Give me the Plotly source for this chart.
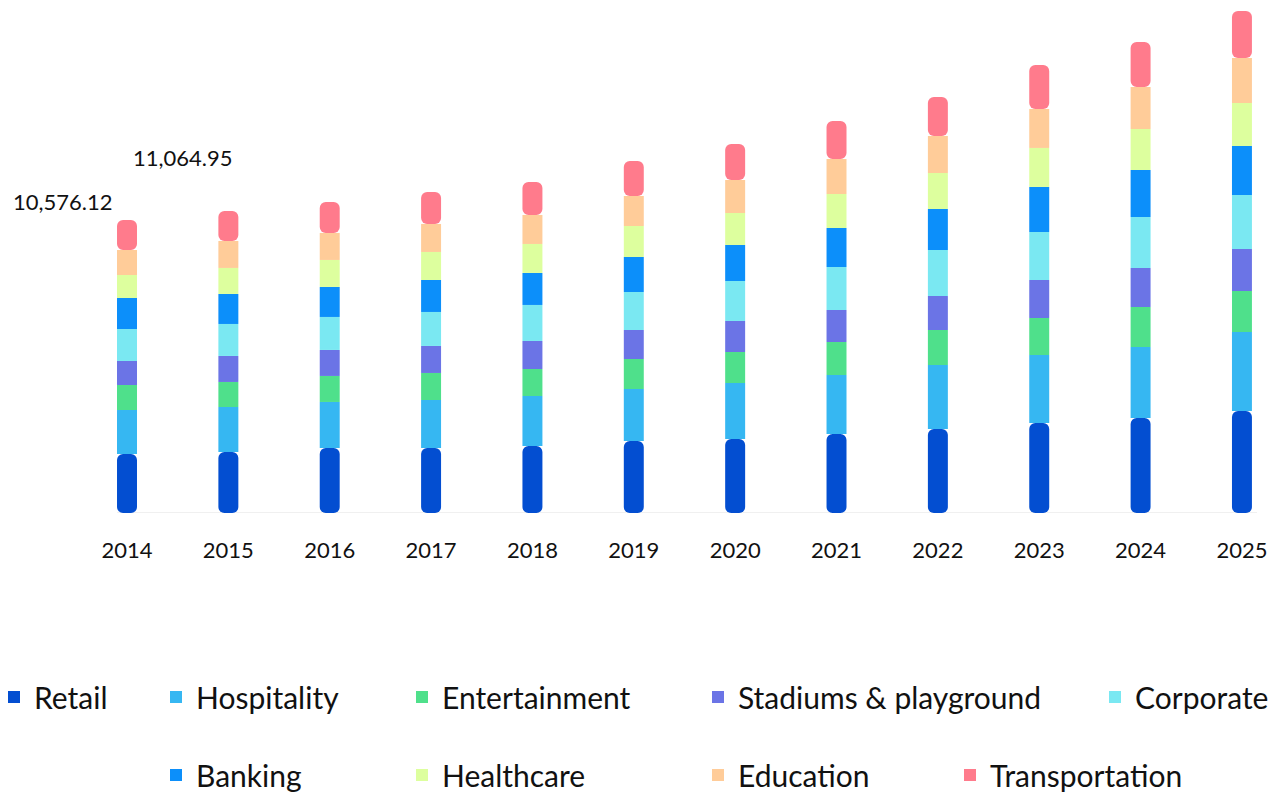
import numpy as np
import plotly.graph_objects as go

years = [2014, 2015, 2016, 2017, 2018, 2019, 2020, 2021, 2022, 2023, 2024, 2025]
categories = ["Retail", "Hospitality", "Entertainment", "Stadiums & playground", "Corporate",
              "Banking", "Healthcare", "Education", "Transportation"]

retail =         [2130, 2202, 2347, 2347, 2419, 2599, 2671, 2852, 3032, 3249, 3430, 3682]
hospitality =    [1588, 1625, 1661, 1733, 1805, 1877, 2022, 2130, 2310, 2455, 2563, 2852]
entertainment =  [903, 903, 939, 975, 975, 1083, 1119, 1191, 1264, 1336, 1444, 1480]
stadiums =       [866, 939, 939, 975, 1011, 1047, 1119, 1155, 1227, 1372, 1408, 1516]
corporate =      [1155, 1155, 1191, 1227, 1300, 1372, 1444, 1552, 1661, 1733, 1841, 1949]
banking =        [1119, 1083, 1083, 1155, 1155, 1264, 1300, 1408, 1480, 1625, 1697, 1769]
healthcare =     [830, 939, 975, 1011, 1047, 1119, 1155, 1227, 1300, 1408, 1480, 1552]
education =      [903, 975, 975, 1011, 1047, 1083, 1191, 1264, 1336, 1408, 1516, 1625]
transportation = [1083, 1083, 1119, 1155, 1191, 1264, 1300, 1372, 1408, 1588, 1625, 1697]

series = [retail, hospitality, entertainment, stadiums, corporate, banking,
          healthcare, education, transportation]
colors = ["#034ed1", "#36b7f2", "#4fe08b", "#6b74e6", "#7ae8f2", "#0c8ffa",
          "#ddff9e", "#ffcc99", "#ff7b8c"]

label_years = [2014, 2015]
label_texts = ["10,576.12", "11,064.95"]

W, H = 1283, 793
PLOT_BOTTOM = 513
FONT = "Lato"
TXT = "#111111"

vals = np.array(series, dtype=float)
bases = np.vstack([np.zeros(len(years)), np.cumsum(vals, axis=0)[:-1]])
totals = vals.sum(axis=0)

bar_w = 0.197
x0, x1 = 2012.747, 2025.405
y_max = 18519

# legend layout: (text start px, row centre px)
leg_text_x = [34, 196, 442, 738, 1135, 196, 442, 738, 990]
leg_row_y = [697, 697, 697, 697, 697, 775, 775, 775, 775]

fig = go.Figure()
n = len(categories)
for i, (name, col) in enumerate(zip(categories, colors)):
    if i == 0:
        # drawn from top of segment down to zero so the rounded end sits at the bottom
        base = vals[i]
        y = -vals[i]
        cr = 6
    else:
        base = bases[i]
        y = vals[i]
        cr = 6 if i == n - 1 else 0
    fig.add_trace(go.Bar(
        x=years, y=y, base=base, name=name, width=bar_w,
        marker=dict(color=col, line=dict(width=0), cornerradius=cr),
        showlegend=False, hoverinfo="skip",
    ))

# legend entries (square icons)
for i, (name, col) in enumerate(zip(categories, colors)):
    lid = "legend" if i == 0 else f"legend{i + 1}"
    fig.add_trace(go.Bar(
        x=[None], y=[None], name=name,
        marker=dict(color=col, line=dict(width=0), cornerradius=0),
        legend=lid, showlegend=True, hoverinfo="skip",
    ))

layout_legends = {}
for i in range(n):
    lid = "legend" if i == 0 else f"legend{i + 1}"
    layout_legends[lid] = dict(
        x=(leg_text_x[i] - 40) / W,
        y=(PLOT_BOTTOM - leg_row_y[i]) / PLOT_BOTTOM,
        xanchor="left", yanchor="middle",
        orientation="h", bgcolor="rgba(0,0,0,0)", borderwidth=0,
        font=dict(family=FONT, size=30, color=TXT),
        itemclick=False, itemdoubleclick=False,
    )

annotations = []
shifts = [(-64, 19), (-45.5, 53.5)]
for yr, txt, (dx, dy) in zip(label_years, label_texts, shifts):
    idx = years.index(yr)
    annotations.append(dict(
        x=yr, y=totals[idx], xref="x", yref="y", text=txt, showarrow=False,
        xanchor="center", yanchor="middle", xshift=dx, yshift=dy,
        font=dict(family=FONT, size=22, color=TXT),
    ))

fig.update_layout(
    width=W, height=H,
    margin=dict(l=0, r=0, t=0, b=H - PLOT_BOTTOM, autoexpand=False),
    barmode="overlay",
    paper_bgcolor="white", plot_bgcolor="white",
    showlegend=True,
    annotations=annotations,
    shapes=[dict(type="line", xref="x", yref="y",
                 x0=years[0] - bar_w / 2, x1=years[-1] + bar_w / 2 + 0.05,
                 y0=0, y1=0, line=dict(color="#f0f0f0", width=2), layer="below")],
    **layout_legends,
)
fig.update_xaxes(
    range=[x0, x1], tickvals=years, ticktext=[str(y) for y in years],
    showgrid=False, zeroline=False, showline=False,
    ticks="outside", ticklen=18, tickcolor="rgba(0,0,0,0)",
    tickfont=dict(family=FONT, size=22, color=TXT), fixedrange=True,
)
fig.update_yaxes(range=[0, y_max], visible=False, showgrid=False, zeroline=False, fixedrange=True)

fig.write_html("out.html", config={"displayModeBar": False},
               post_script="document.body.style.margin='0';document.body.style.overflow='hidden';")
